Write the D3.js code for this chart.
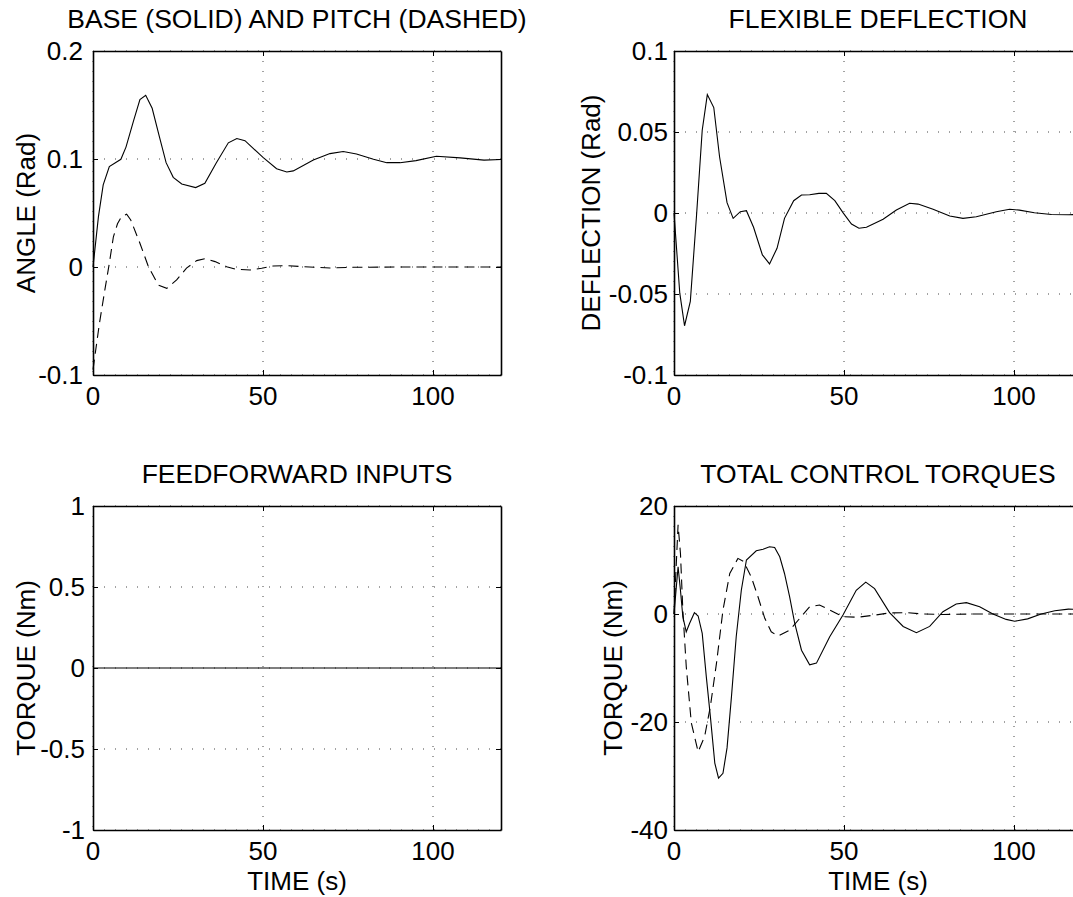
<!DOCTYPE html>
<html>
<head>
<meta charset="utf-8">
<script src="https://cdn.jsdelivr.net/npm/d3@7"></script>
<style>
  body { margin: 0; background: #fff; }
  svg { display: block; }
  text { font-family: "Liberation Sans", Arial, Helvetica, sans-serif; fill: #000; }
</style>
</head>
<body>
<svg id="canvas" width="1073" height="897"></svg>
<script>
// time ticks shared by all panels
const timeTicks = [0, 50, 100]

// base angle (solid) and pitch angle (dashed), Rad
const baseT = [0, 1.6, 3, 4.8, 8.2, 9.7, 11.9, 13.8, 15.5, 17.4, 19.5, 21.5, 23.6, 26.1, 30.2, 32.9, 36.2, 39.8, 42.3, 44.7, 50, 54, 57, 58.9, 64.8, 69.7, 73.6, 77.5, 82.5, 86.4, 90.3, 95, 101, 108, 115, 120]
const baseV = [0, 0.0466, 0.076, 0.093, 0.0997, 0.111, 0.135, 0.155, 0.159, 0.147, 0.121, 0.0966, 0.083, 0.0769, 0.0735, 0.0775, 0.096, 0.115, 0.119, 0.117, 0.1015, 0.091, 0.088, 0.089, 0.099, 0.105, 0.107, 0.1046, 0.0997, 0.0966, 0.0966, 0.0985, 0.1025, 0.101, 0.099, 0.0995]
const pitchT = [0, 1.9, 3.5, 4.8, 6, 7.2, 8.4, 9.9, 11.1, 13.8, 16.3, 19.2, 21.7, 24.6, 27.5, 30.5, 33, 35.9, 39.3, 41.8, 46.2, 49.6, 53, 57, 61.9, 69.7, 76.6, 90.3, 120]
const pitchV = [-0.095, -0.052, -0.021, 0.0034, 0.028, 0.04, 0.0466, 0.0488, 0.0435, 0.022, 0.0003, -0.0167, -0.0198, -0.012, -0.001, 0.0059, 0.0077, 0.005, 0.0003, -0.0019, -0.0028, -0.0012, 0.0009, 0.0012, 0.0003, -0.0009, -0.0003, 0, 0]
const angleTicks = [-0.1, 0, 0.1, 0.2]

// flexible deflection, Rad
const deflT = [0, 1.7, 3.1, 4.8, 6.6, 8.3, 9.8, 11.7, 13.4, 15.6, 17.4, 19.5, 21.3, 23.4, 26, 28.1, 30.3, 32.5, 35.2, 37.5, 39.9, 42.6, 44.8, 47.3, 49.7, 52.2, 54.4, 56.6, 61.5, 65.4, 69.3, 71.8, 76.2, 81.1, 85, 88.9, 94.8, 98.7, 101.6, 106, 111, 116, 120]
const deflV = [0, -0.0495, -0.0696, -0.0546, -0.0023, 0.0511, 0.0731, 0.0651, 0.0347, 0.0064, -0.0033, 0.0008, 0.0014, -0.0088, -0.0259, -0.0314, -0.0218, -0.0033, 0.0076, 0.0111, 0.0113, 0.0121, 0.0121, 0.0076, 0.0002, -0.0068, -0.0094, -0.0088, -0.0039, 0.0018, 0.006, 0.0055, 0.0023, -0.0018, -0.0033, -0.0023, 0.0008, 0.0023, 0.0018, 0.0002, -0.0009, -0.0011, -0.0008]
const deflTicks = [-0.1, -0.05, 0, 0.05, 0.1]

// feedforward inputs, Nm
const ffT = [0, 120]
const ffV = [0, 0]
const ffTicks = [-1, -0.5, 0, 0.5, 1]

// total control torques: base (solid) and pitch (dashed), Nm
const tqBaseT = [0, 1.2, 1.9, 2.6, 3.6, 4.6, 6, 7.1, 8.3, 9.5, 10.7, 12, 13.1, 14.4, 15.6, 16.9, 18.3, 19.8, 21.3, 24.2, 26.2, 28.1, 29.6, 31.1, 32.5, 34, 35.5, 37.5, 39.9, 41.9, 45.8, 49.7, 53.6, 56.4, 59, 63.4, 67.4, 71.3, 75.2, 79.1, 83, 86, 89.9, 93.8, 97.7, 100.2, 104, 108, 112, 116, 120]
const tqBaseV = [0, 8.75, 4.4, -0.5, -3.3, -1.7, 0.25, -0.37, -3.6, -11.6, -19, -27.6, -30.4, -29.5, -24.8, -15.3, -4.2, 4.4, 10, 11.7, 12, 12.45, 12.3, 10.6, 7.5, 3.2, -1.7, -6.7, -9.4, -9.1, -4.2, -0.2, 4.4, 5.9, 4.7, 0.25, -2.3, -3.45, -2.3, 0.43, 1.85, 2.1, 1.35, 0, -1, -1.35, -0.9, 0, 0.6, 0.9, 0.8]
const tqPitchT = [0, 1.2, 1.9, 2.6, 3.6, 5.1, 7.1, 9, 10.7, 12.5, 14.4, 16.4, 18.8, 20.5, 22.7, 24.7, 26.7, 28.6, 30.6, 34, 37, 39.9, 42.8, 45.8, 49.7, 54.1, 58.5, 63.4, 68.3, 73.2, 79.1, 88, 120]
const tqPitchV = [0, 16.5, 11.2, 0.7, -9.7, -20.2, -25.5, -22.7, -17.1, -9.1, 0.7, 7.5, 10.3, 9.7, 6.9, 3.2, -0.8, -3.3, -4.1, -3, -0.8, 1.36, 1.66, 0.74, -0.5, -0.6, -0.25, 0.2, 0.25, 0, -0.1, 0, 0]
const torqueTicks = [-40, -20, 0, 20]

let canvas = d3.select('#canvas')

let drawPanel = (box, yDomain, yTicks, title, yLabel, showTime, series) => {

    let x = d3.scaleLinear().domain([0, 120]).range([box.left, box.right])
    let y = d3.scaleLinear().domain(yDomain).range([box.bottom, box.top])

    let g = canvas.append('g')

    // dotted grid at every tick
    g.selectAll('.vgrid')
        .data(timeTicks)
        .enter()
        .append('line')
        .attr('x1', d => x(d)).attr('x2', d => x(d))
        .attr('y1', box.top).attr('y2', box.bottom)
        .attr('stroke', '#444').attr('stroke-width', 1)
        .attr('stroke-dasharray', '1,9')

    g.selectAll('.hgrid')
        .data(yTicks)
        .enter()
        .append('line')
        .attr('x1', box.left).attr('x2', box.right)
        .attr('y1', d => y(d)).attr('y2', d => y(d))
        .attr('stroke', '#444').attr('stroke-width', 1)
        .attr('stroke-dasharray', '1,10')

    // curves
    series.forEach(s => {
        let pts = s.t.map((t, i) => [t, s.v[i]])
        g.append('path')
            .datum(pts)
            .attr('fill', 'none')
            .attr('stroke', '#000')
            .attr('stroke-width', 1.1)
            .attr('stroke-dasharray', s.dashed ? '10,6' : null)
            .attr('d', d3.line().x(d => x(d[0])).y(d => y(d[1])))
    })

    // axes with inward ticks, box on all sides
    let tickLen = 5
    g.append('g').attr('transform', 'translate(0,' + box.bottom + ')')
        .call(d3.axisBottom(x).tickValues(timeTicks).tickSizeInner(-tickLen).tickSizeOuter(0).tickFormat(''))
    g.append('g').attr('transform', 'translate(0,' + box.top + ')')
        .call(d3.axisTop(x).tickValues(timeTicks).tickSizeInner(-tickLen).tickSizeOuter(0).tickFormat(''))
    g.append('g').attr('transform', 'translate(' + box.left + ',0)')
        .call(d3.axisLeft(y).tickValues(yTicks).tickSizeInner(-tickLen).tickSizeOuter(0).tickFormat(''))
    g.append('g').attr('transform', 'translate(' + box.right + ',0)')
        .call(d3.axisRight(y).tickValues(yTicks).tickSizeInner(-tickLen).tickSizeOuter(0).tickFormat(''))
    g.selectAll('.domain').attr('stroke', '#000').attr('stroke-width', 1.6)
    g.selectAll('.tick line').attr('stroke', '#000')

    // tick labels
    g.selectAll('.xlab')
        .data(timeTicks)
        .enter()
        .append('text')
        .attr('x', d => x(d))
        .attr('y', box.bottom + 30)
        .attr('text-anchor', 'middle')
        .style('font-size', '26px')
        .text(d => String(d))

    g.selectAll('.ylab')
        .data(yTicks)
        .enter()
        .append('text')
        .attr('x', box.left - box.tickGap)
        .attr('y', d => y(d) + 9)
        .attr('text-anchor', 'end')
        .style('font-size', '26px')
        .text(d => String(d))

    g.append('text')
        .attr('x', (box.left + box.right) / 2)
        .attr('y', box.top - 23)
        .attr('text-anchor', 'middle')
        .style('font-size', '26.5px')
        .text(title)

    g.append('text')
        .attr('transform', 'translate(' + (box.left - box.labelGap) + ',' + ((box.top + box.bottom) / 2) + ') rotate(-90)')
        .attr('text-anchor', 'middle')
        .style('font-size', '26px')
        .text(yLabel)

    if (showTime) {
        g.append('text')
            .attr('x', (box.left + box.right) / 2)
            .attr('y', box.bottom + 60)
            .attr('text-anchor', 'middle')
            .style('font-size', '26px')
            .text('TIME (s)')
    }
}

drawPanel({ left: 93, right: 501, top: 51, bottom: 375, tickGap: 10, labelGap: 58 }, [-0.1, 0.2], angleTicks,
    'BASE (SOLID) AND PITCH (DASHED)', 'ANGLE (Rad)', false,
    [{ t: baseT, v: baseV }, { t: pitchT, v: pitchV, dashed: true }])

drawPanel({ left: 674, right: 1082, top: 51, bottom: 375, tickGap: 6, labelGap: 74 }, [-0.1, 0.1], deflTicks,
    'FLEXIBLE DEFLECTION', 'DEFLECTION (Rad)', false,
    [{ t: deflT, v: deflV }])

drawPanel({ left: 93, right: 501, top: 506, bottom: 830, tickGap: 8, labelGap: 58 }, [-1, 1], ffTicks,
    'FEEDFORWARD INPUTS', 'TORQUE (Nm)', true,
    [{ t: ffT, v: ffV }])

drawPanel({ left: 674, right: 1082, top: 506, bottom: 830, tickGap: 6, labelGap: 52 }, [-40, 20], torqueTicks,
    'TOTAL CONTROL TORQUES', 'TORQUE (Nm)', true,
    [{ t: tqBaseT, v: tqBaseV }, { t: tqPitchT, v: tqPitchV, dashed: true }])
</script>
</body>
</html>
